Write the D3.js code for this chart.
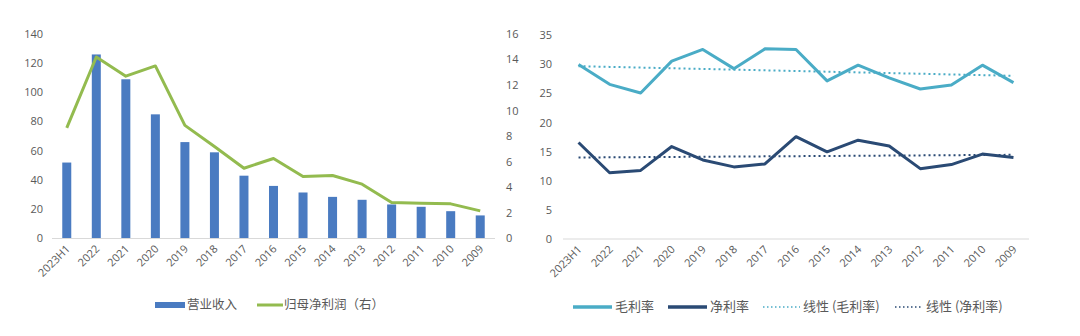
<!DOCTYPE html>
<html>
<head>
<meta charset="utf-8">
<script src="https://cdn.jsdelivr.net/npm/d3@7/dist/d3.min.js"></script>
<style>
  body { margin: 0; background: #fff; }
  svg { display: block; font-family: "Open Sans", "Noto Sans CJK SC", sans-serif; }
  .tick-label { fill: #595959; font-size: 11px; }
  .legend-label { fill: #595959; font-size: 12.5px; font-family: "Noto Sans CJK SC", sans-serif; }
</style>
</head>
<body>
<svg id="chart" width="1080" height="336"></svg>
<script>
const years = ["2023H1", "2022", "2021", "2020", "2019", "2018", "2017", "2016",
  "2015", "2014", "2013", "2012", "2011", "2010", "2009"];

// left chart: revenue (bars, left axis) and net profit (line, right axis)
const revenue = [52, 126, 109, 85, 66, 59, 43, 36, 31.5, 28.5, 26.5, 23.3, 21.7, 18.7, 15.8];
const netProfit = [8.66, 14.2, 12.7, 13.5, 8.85, 7.2, 5.5, 6.26, 4.85, 4.93, 4.25, 2.82, 2.76, 2.71, 2.16];
const revenueTicks = [0, 20, 40, 60, 80, 100, 120, 140];
const profitTicks = [0, 2, 4, 6, 8, 10, 12, 14, 16];

// right chart: gross margin and net margin (%)
const grossMargin = [30.0, 26.6, 25.1, 30.6, 32.6, 29.3, 32.7, 32.6, 27.2, 29.9, 27.7, 25.8, 26.5, 29.9, 26.9];
const netMargin = [16.6, 11.4, 11.8, 15.9, 13.6, 12.4, 12.9, 17.6, 15.0, 17.0, 16.0, 12.1, 12.8, 14.6, 14.0];
const marginTicks = [0, 5, 10, 15, 20, 25, 30, 35];

const colors = {
  bar: "#4a7bc1",
  profit: "#93bb4f",
  gross: "#4aacc6",
  net: "#2a4a74",
  text: "#595959",
  axis: "#d9d9d9",
};

const svg = d3.select("#chart");

function linearTrend(values) {
  const n = values.length;
  const xs = d3.range(n);
  const mx = d3.mean(xs);
  const my = d3.mean(values);
  const slope = d3.sum(xs, (x, i) => (x - mx) * (values[i] - my)) / d3.sum(xs, (x) => (x - mx) ** 2);
  return xs.map((x) => my + slope * (x - mx));
}

function drawXLabels(g, x, y0) {
  g.selectAll("text.xl")
    .data(years)
    .join("text")
    .attr("class", "tick-label xl")
    .attr("text-anchor", "end")
    .attr("transform", (d) => `translate(${x(d) + x.bandwidth() / 2 + 4},${y0 + 11}) rotate(-45)`)
    .text((d) => d);
}

function drawYLabels(g, y, ticks, xPos, anchor) {
  g.selectAll(null)
    .data(ticks)
    .join("text")
    .attr("class", "tick-label")
    .attr("text-anchor", anchor)
    .attr("x", xPos)
    .attr("y", (d) => y(d))
    .attr("dy", "0.35em")
    .text((d) => d);
}

// ---- left chart ----
const left = svg.append("g");
const x1 = d3.scaleBand().domain(years).range([52, 495]);
const yRev = d3.scaleLinear().domain([0, 140]).range([238.5, 34]);
const yProfit = d3.scaleLinear().domain([0, 16]).range([238.5, 34]);

drawYLabels(left, yRev, revenueTicks, 43, "end");
drawYLabels(left, yProfit, profitTicks, 506, "start");

const barW = 9;
left.selectAll("rect.bar")
  .data(years)
  .join("rect")
  .attr("class", "bar")
  .attr("x", (d) => x1(d) + x1.bandwidth() / 2 - barW / 2)
  .attr("y", (d, i) => yRev(revenue[i]))
  .attr("width", barW)
  .attr("height", (d, i) => yRev(0) - yRev(revenue[i]))
  .attr("fill", colors.bar);

left.append("line")
  .attr("x1", 52).attr("x2", 495)
  .attr("y1", yRev(0)).attr("y2", yRev(0))
  .attr("stroke", colors.axis).attr("stroke-width", 1);

left.append("path")
  .datum(netProfit)
  .attr("fill", "none")
  .attr("stroke", colors.profit)
  .attr("stroke-width", 3)
  .attr("stroke-linejoin", "round")
  .attr("d", d3.line()
    .x((d, i) => x1(years[i]) + x1.bandwidth() / 2)
    .y((d) => yProfit(d)));

drawXLabels(left, x1, yRev(0));

// left legend
const legL = left.append("g");
legL.append("rect").attr("x", 155).attr("y", 302).attr("width", 30).attr("height", 6).attr("fill", colors.bar);
legL.append("text").attr("class", "legend-label").attr("x", 187).attr("y", 305).attr("dy", "0.35em").text("营业收入");
legL.append("line").attr("x1", 257).attr("x2", 283).attr("y1", 305).attr("y2", 305)
  .attr("stroke", colors.profit).attr("stroke-width", 3);
legL.append("text").attr("class", "legend-label").attr("x", 284).attr("y", 305).attr("dy", "0.35em").text("归母净利润（右）");

// ---- right chart ----
const right = svg.append("g");
const x2 = d3.scaleBand().domain(years).range([563, 1029]);
const yMargin = d3.scaleLinear().domain([0, 35]).range([239, 35.5]);

drawYLabels(right, yMargin, marginTicks, 552, "end");

right.append("line")
  .attr("x1", 563).attr("x2", 1029)
  .attr("y1", yMargin(0)).attr("y2", yMargin(0))
  .attr("stroke", colors.axis).attr("stroke-width", 1);

const lineR = d3.line()
  .x((d, i) => x2(years[i]) + x2.bandwidth() / 2)
  .y((d) => yMargin(d));

const series = [
  { values: linearTrend(grossMargin), color: colors.gross, width: 2, dash: "2,3" },
  { values: linearTrend(netMargin), color: colors.net, width: 2, dash: "2,3" },
  { values: grossMargin, color: colors.gross, width: 3, dash: null },
  { values: netMargin, color: colors.net, width: 3, dash: null },
];

right.selectAll("path.series")
  .data(series)
  .join("path")
  .attr("class", "series")
  .attr("fill", "none")
  .attr("stroke", (d) => d.color)
  .attr("stroke-width", (d) => d.width)
  .attr("stroke-dasharray", (d) => d.dash)
  .attr("stroke-linejoin", "round")
  .attr("d", (d) => lineR(d.values));

drawXLabels(right, x2, yMargin(0));

// right legend
const legendItems = [
  { label: "毛利率", color: colors.gross, x: 573, len: 39, dash: null, w: 3.5 },
  { label: "净利率", color: colors.net, x: 668, len: 39, dash: null, w: 3.5 },
  { label: "线性 (毛利率)", color: colors.gross, x: 763, len: 37, dash: "1.5,2.5", w: 1.5 },
  { label: "线性 (净利率)", color: colors.net, x: 895, len: 28, dash: "1.5,2.5", w: 1.5 },
];
const legR = right.append("g");
legendItems.forEach((it) => {
  legR.append("line")
    .attr("x1", it.x).attr("x2", it.x + it.len)
    .attr("y1", 307).attr("y2", 307)
    .attr("stroke", it.color)
    .attr("stroke-width", it.w)
    .attr("stroke-dasharray", it.dash);
  legR.append("text")
    .attr("class", "legend-label")
    .attr("x", it.x + it.len + 3)
    .attr("y", 306)
    .attr("dy", "0.35em")
    .style("font-size", "13px")
    .text(it.label);
});
</script>
</body>
</html>
